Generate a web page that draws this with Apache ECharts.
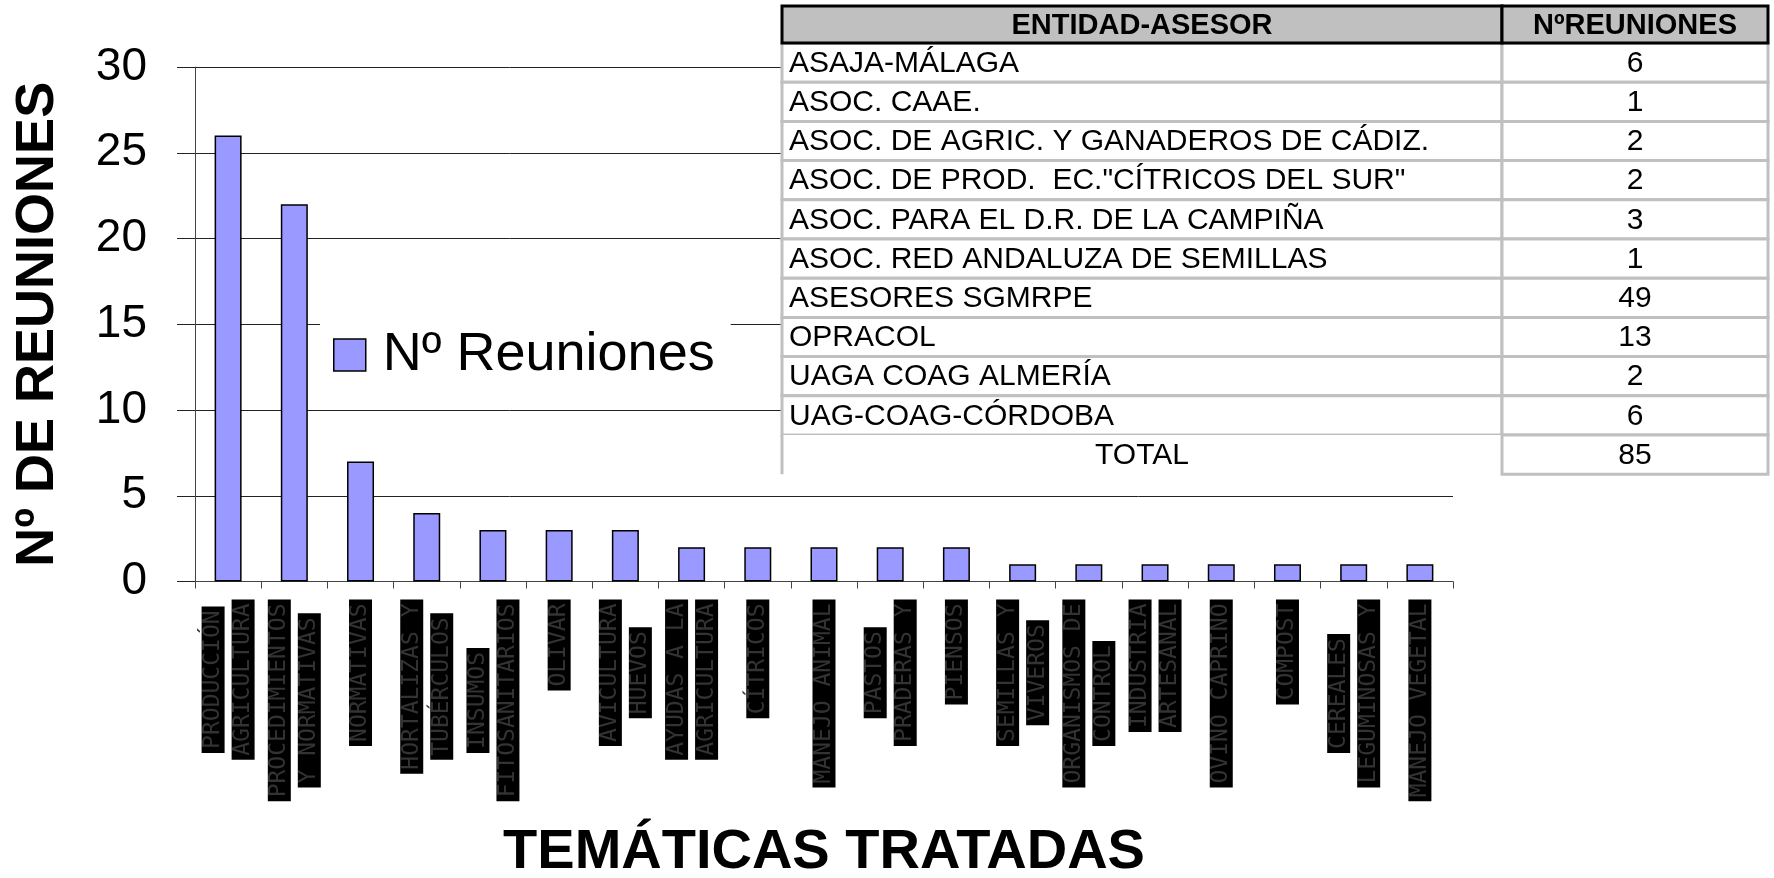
<!DOCTYPE html>
<html>
<head>
<meta charset="utf-8">
<title>Reuniones</title>
<script src="https://cdn.jsdelivr.net/npm/echarts@6/dist/echarts.min.js"></script>
<style>
  html, body { margin: 0; padding: 0; background: #fff; }
  #main { width: 1774px; height: 878px; }
</style>
</head>
<body>
<div id="main"></div>
<script>
// temáticas (eje x) y nº de reuniones
var temas = [
  'PRODUCCIÓN\nAGRICULTURA', 'PROCEDIMIENTOS\nY NORMATIVAS', 'NORMATIVAS',
  'HORTALIZAS Y\nTUBÉRCULOS', 'INSUMOS\nFITOSANITARIOS', 'OLIVAR',
  'AVICULTURA\nHUEVOS', 'AYUDAS A LA\nAGRICULTURA', 'CÍTRICOS',
  'MANEJO ANIMAL', 'PASTOS\nPRADERAS Y', 'PIENSOS',
  'SEMILLAS Y\nVIVEROS', 'ORGANISMOS DE\nCONTROL', 'INDUSTRIA\nARTESANAL',
  'OVINO CAPRINO', 'COMPOST', 'CEREALES\nLEGUMINOSAS Y', 'MANEJO VEGETAL'
];
var reuniones = [26, 22, 7, 4, 3, 3, 3, 2, 2, 2, 2, 2, 1, 1, 1, 1, 1, 1, 1];

// tabla de entidades
var entidades = [
  'ASAJA-MÁLAGA', 'ASOC. CAAE.', 'ASOC. DE AGRIC. Y GANADEROS DE CÁDIZ.',
  'ASOC. DE PROD.  EC."CÍTRICOS DEL SUR"', 'ASOC. PARA EL D.R. DE LA CAMPIÑA',
  'ASOC. RED ANDALUZA DE SEMILLAS', 'ASESORES SGMRPE', 'OPRACOL',
  'UAGA COAG ALMERÍA', 'UAG-COAG-CÓRDOBA'
];
var entReuniones = [6, 1, 2, 2, 3, 1, 49, 13, 2, 6];
var totalReuniones = 85;

var FONT = '"Liberation Sans", Arial, sans-serif';

// tabla dibujada con graphic
var tabla = [];
var tx = 782, c1 = 720, c2 = 266, ty = 6, hh = 37, rh = 39.2;
function celda(x, y, w, h, fill, stroke, lw) {
  tabla.push({ type: 'rect', z: 100, shape: { x: x, y: y, width: w, height: h },
    style: { fill: fill, stroke: stroke, lineWidth: lw } });
}
function texto(t, x, y, align, font) {
  tabla.push({ type: 'text', z: 101, x: x, y: y,
    style: { text: t, align: align, verticalAlign: 'middle', font: font, fill: '#000' } });
}
var filas = entidades.concat(['TOTAL']);
var valores = entReuniones.concat([totalReuniones]);
filas.forEach(function (f, i) {
  var y = ty + hh + rh * i;
  var last = i === filas.length - 1;
  if (last) {
    celda(tx, y, c1, rh, '#fff', null, 0);
    tabla.push({ type: 'line', z: 100, shape: { x1: tx, y1: y, x2: tx, y2: y + rh },
      style: { stroke: '#c0c0c0', lineWidth: 3 } });
  } else {
    celda(tx, y, c1, rh, '#fff', '#c0c0c0', 3);
  }
  celda(tx + c1, y, c2, rh, '#fff', '#c0c0c0', 3);
  if (last) texto(f, tx + c1 / 2, y + rh / 2 + 1, 'center', '30px ' + FONT);
  else texto(f, tx + 7, y + rh / 2 + 1, 'left', '30px ' + FONT);
  texto(String(valores[i]), tx + c1 + c2 / 2, y + rh / 2 + 1, 'center', '30px ' + FONT);
});
celda(tx, ty, c1, hh, '#c0c0c0', '#000', 3);
celda(tx + c1, ty, c2, hh, '#c0c0c0', '#000', 3);
texto('ENTIDAD-ASESOR', tx + c1 / 2, ty + hh / 2 + 1, 'center', 'bold 29px ' + FONT);
texto('NºREUNIONES', tx + c1 + c2 / 2, ty + hh / 2 + 1, 'center', 'bold 29px ' + FONT);

var chart = echarts.init(document.getElementById('main'));
var option = {
  animation: false,
  backgroundColor: '#fff',
  grid: { left: 195, right: 321, top: 67, bottom: 296.5, containLabel: false, outerBoundsMode: 'none' },
  legend: {
    data: ['Nº Reuniones'],
    left: 320, top: 318,
    backgroundColor: '#fff',
    padding: [10, 16, 10, 13],
    itemWidth: 32, itemHeight: 32,
    icon: 'rect',
    itemStyle: { color: '#9999ff', borderColor: '#000', borderWidth: 1.5 },
    textStyle: { fontSize: 54, fontFamily: FONT, color: '#000', padding: [0, 0, 0, 12] },
    z: 50
  },
  xAxis: {
    type: 'category',
    data: temas,
    name: 'TEMÁTICAS TRATADAS',
    nameLocation: 'middle',
    nameGap: 243,
    nameTextStyle: { fontSize: 56, fontWeight: 'bold', fontFamily: FONT, color: '#000' },
    axisLine: { lineStyle: { color: '#444', width: 1 } },
    axisTick: { show: true, length: 7, lineStyle: { color: '#444' } },
    axisLabel: {
      interval: 0, rotate: 90, margin: 18,
      formatter: function (v) {
        return v.split('\n').map(function (s) { return '{b|' + s + '}'; }).join('\n');
      },
      rich: {
        b: {
          backgroundColor: '#000', color: '#333', fontFamily: 'DejaVu Sans Mono',
          fontSize: 23, lineHeight: 30, padding: [0, 4], align: 'center'
        }
      }
    }
  },
  yAxis: {
    type: 'value',
    min: 0, max: 30, interval: 5,
    name: 'Nº DE REUNIONES',
    nameLocation: 'middle',
    nameRotate: 90,
    nameGap: 130,
    nameTextStyle: { fontSize: 54, fontWeight: 'bold', fontFamily: FONT, color: '#000' },
    axisLine: { show: true, lineStyle: { color: '#444', width: 1 } },
    axisTick: { show: true, length: 18, lineStyle: { color: '#222' } },
    axisLabel: { fontSize: 46, fontFamily: FONT, color: '#000', margin: 48 },
    splitLine: { lineStyle: { color: '#222', width: 1 } }
  },
  series: [{
    name: 'Nº Reuniones',
    type: 'bar',
    data: reuniones,
    barWidth: 27,
    itemStyle: { color: '#9999ff', borderColor: '#000', borderWidth: 1.5 }
  }],
  graphic: tabla
};
chart.setOption(option);
</script>
</body>
</html>
